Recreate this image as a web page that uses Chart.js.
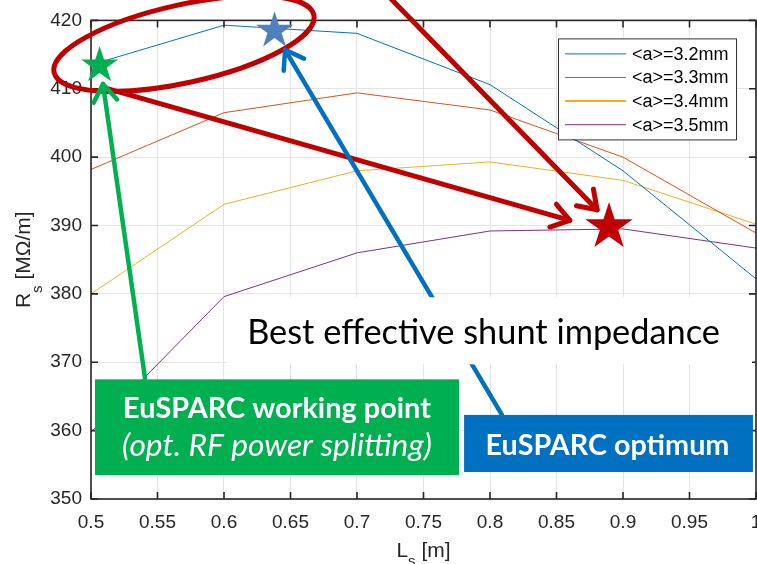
<!DOCTYPE html>
<html>
<head>
<meta charset="utf-8">
<script src="https://cdn.jsdelivr.net/npm/chart.js@4.4.1/dist/chart.umd.min.js"></script>
<style>
  html, body { margin: 0; padding: 0; overflow: hidden; background: #fff; }
  canvas { display: block; }
</style>
</head>
<body>
<canvas id="chart" width="800" height="564"></canvas>
<script>
// structure length L_s [m]
const lengths = [0.5, 0.6, 0.7, 0.8, 0.9, 1.0];
// shunt impedance R_s [MOhm/m], one list per average iris radius
const rs32 = [413.5, 419.3, 418.1, 410.6, 398.0, 382.2];
const rs33 = [398.2, 406.5, 409.4, 406.9, 400.0, 388.9];
const rs34 = [380.0, 393.1, 398.0, 399.3, 396.6, 390.2];
const rs35 = [359.8, 379.6, 386.0, 389.2, 389.5, 386.7];
const seriesLabels = ['<a>=3.2mm', '<a>=3.3mm', '<a>=3.4mm', '<a>=3.5mm'];
const xTicks = [0.5, 0.55, 0.6, 0.65, 0.7, 0.75, 0.8, 0.85, 0.9, 0.95, 1];
const yTicks = [350, 360, 370, 380, 390, 400, 410, 420];

const colors = ['#0072BD', '#D95319', '#EDB120', '#7E2F8E'];
const AX = '#262626';
const TXT = 'Liberation Sans, Arial, sans-serif';
const SLIDE = 'Lato, "Open Sans", sans-serif';

// slide overlay (data units)
const notes = {
  stars: [
    { x: 0.5065, y: 413.4, r: 19.5, color: '#00B050' },
    { x: 0.638, y: 418.5, r: 19.5, color: '#4F81BD' },
    { x: 0.8895, y: 389.8, r: 25, color: '#C00000' }
  ],
  ellipse: { x: 0.5699, y: 416.6, rx: 133, ry: 39, rot: -12.5, color: '#C00000' },
  arrows: [
    { from: [0.509, 410.2], to: [0.860, 390.75], color: '#C00000', w: 5 },
    { from: [0.7173, 424.8], to: [0.8805, 392.3], color: '#C00000', w: 5 },
    { from: [0.809, 362.3], to: [0.6459, 415.7], color: '#0070C0', w: 4.5 },
    { from: [0.5406, 367.7], to: [0.509, 410.7], color: '#00B050', w: 4.5 }
  ],
  white: { x0: 0.6023, y0: 379.5, x1: 0.997, y1: 369.7 },
  green: { x0: 0.503, y0: 367.5, x1: 0.7767, y1: 353.5 },
  blue: { x0: 0.7805, y0: 362.3, x1: 0.9977, y1: 353.95 }
};

function pt(chart, x, y) {
  return [chart.scales.x.getPixelForValue(x), chart.scales.y.getPixelForValue(y)];
}

function fitSize(ctx, text, style, width) {
  ctx.font = style + ' 100px ' + SLIDE;
  return 100 * width / ctx.measureText(text).width;
}

function star(ctx, cx, cy, r, color) {
  ctx.beginPath();
  for (let i = 0; i < 10; i++) {
    const rr = i % 2 ? r * 0.382 : r;
    const a = -Math.PI / 2 + i * Math.PI / 5;
    const px = cx + rr * Math.cos(a), py = cy + rr * Math.sin(a);
    i ? ctx.lineTo(px, py) : ctx.moveTo(px, py);
  }
  ctx.closePath();
  ctx.fillStyle = color;
  ctx.fill();
}

function arrow(ctx, x0, y0, x1, y1, color, w) {
  const ang = Math.atan2(y1 - y0, x1 - x0);
  const L = 21, spread = 0.6;
  ctx.strokeStyle = color;
  ctx.lineWidth = w;
  ctx.lineCap = 'round';
  ctx.lineJoin = 'round';
  ctx.beginPath();
  ctx.moveTo(x0, y0);
  ctx.lineTo(x1, y1);
  ctx.stroke();
  ctx.beginPath();
  ctx.moveTo(x1 - L * Math.cos(ang - spread), y1 - L * Math.sin(ang - spread));
  ctx.lineTo(x1, y1);
  ctx.lineTo(x1 - L * Math.cos(ang + spread), y1 - L * Math.sin(ang + spread));
  ctx.stroke();
}

function box(chart, b, fill) {
  const [x0, y0] = pt(chart, b.x0, b.y0);
  const [x1, y1] = pt(chart, b.x1, b.y1);
  chart.ctx.fillStyle = fill;
  chart.ctx.fillRect(x0, y0, x1 - x0, y1 - y0);
  return { x0, y0, x1, y1, cx: (x0 + x1) / 2 };
}

// main text + subscript + rest, centred on 0 along the baseline
function subLabel(ctx, main, sub, rest, y, drop) {
  ctx.font = '21px ' + TXT;
  const w1 = ctx.measureText(main).width, w3 = ctx.measureText(rest).width;
  ctx.font = '15px ' + TXT;
  const w2 = ctx.measureText(sub).width;
  const x = -(w1 + w2 + w3) / 2;
  ctx.font = '21px ' + TXT;
  ctx.fillText(main, x, y);
  ctx.fillText(rest, x + w1 + w2, y);
  ctx.font = '15px ' + TXT;
  ctx.fillText(sub, x + w1, y + drop);
}

const overlay = {
  id: 'overlay',
  afterDatasetsDraw(chart) {
    const ctx = chart.ctx, a = chart.chartArea;
    const sx = chart.scales.x, sy = chart.scales.y;
    ctx.save();
    ctx.strokeStyle = AX;
    ctx.lineWidth = 1.6;
    ctx.strokeRect(a.left, a.top, a.right - a.left, a.bottom - a.top);
    ctx.beginPath();
    xTicks.forEach(v => {
      const x = sx.getPixelForValue(v);
      ctx.moveTo(x, a.bottom); ctx.lineTo(x, a.bottom - 7);
      ctx.moveTo(x, a.top); ctx.lineTo(x, a.top + 7);
    });
    yTicks.forEach(v => {
      const y = sy.getPixelForValue(v);
      ctx.moveTo(a.left, y); ctx.lineTo(a.left + 7, y);
      ctx.moveTo(a.right, y); ctx.lineTo(a.right - 7, y);
    });
    ctx.stroke();
    ctx.restore();
  },
  afterDraw(chart) {
    const ctx = chart.ctx, a = chart.chartArea;
    ctx.save();

    // legend
    const lx = a.right - 198, ly = a.top + 18;
    ctx.fillStyle = '#fff';
    ctx.fillRect(lx, ly, 178, 101);
    ctx.strokeStyle = '#333';
    ctx.lineWidth = 1;
    ctx.strokeRect(lx + 0.5, ly + 0.5, 178, 101);
    ctx.font = '18px ' + TXT;
    ctx.textBaseline = 'middle';
    ctx.textAlign = 'left';
    chart.data.datasets.forEach((ds, i) => {
      const y = ly + 15.5 + i * 23.6;
      ctx.strokeStyle = ds.borderColor;
      ctx.lineWidth = i === 2 ? 2 : 1;
      ctx.beginPath();
      ctx.moveTo(lx + 7, y); ctx.lineTo(lx + 68, y);
      ctx.stroke();
      ctx.fillStyle = '#000';
      ctx.fillText(ds.label, lx + 74, y + 1);
    });

    // axis titles
    ctx.fillStyle = AX;
    ctx.textBaseline = 'alphabetic';
    ctx.save();
    ctx.translate((a.left + a.right) / 2, 557);
    subLabel(ctx, 'L', 's', ' [m]', 0, 9);
    ctx.restore();

    ctx.save();
    ctx.translate(30, (a.top + a.bottom) / 2);
    ctx.rotate(-Math.PI / 2);
    subLabel(ctx, 'R', 's', ' [M\u03A9/m]', 0, 12);
    ctx.restore();

    // ellipse around the high-R_s region
    const e = notes.ellipse;
    const [ex, ey] = pt(chart, e.x, e.y);
    ctx.strokeStyle = e.color;
    ctx.lineWidth = 5;
    ctx.beginPath();
    ctx.ellipse(ex, ey, e.rx, e.ry, e.rot * Math.PI / 180, 0, 2 * Math.PI);
    ctx.stroke();

    notes.arrows.forEach(ar => {
      const [x0, y0] = pt(chart, ar.from[0], ar.from[1]);
      const [x1, y1] = pt(chart, ar.to[0], ar.to[1]);
      arrow(ctx, x0, y0, x1, y1, ar.color, ar.w);
    });

    notes.stars.forEach(s => {
      const [sx, sy] = pt(chart, s.x, s.y);
      star(ctx, sx, sy, s.r, s.color);
    });

    // text boxes
    ctx.textAlign = 'center';
    ctx.textBaseline = 'alphabetic';
    let b = box(chart, notes.white, '#fff');
    let t = 'Best effective shunt impedance';
    ctx.font = fitSize(ctx, t, 'normal', 473) + 'px ' + SLIDE;
    ctx.fillStyle = '#000';
    ctx.fillText(t, b.cx - 6, b.y0 + 47);

    b = box(chart, notes.green, '#00B050');
    ctx.fillStyle = '#fff';
    t = 'EuSPARC working point';
    ctx.font = 'bold ' + fitSize(ctx, t, 'bold', 308) + 'px ' + SLIDE;
    ctx.fillText(t, b.cx, b.y0 + 39);
    t = '(opt. RF power splitting)';
    ctx.font = 'italic ' + fitSize(ctx, t, 'italic', 310) + 'px ' + SLIDE;
    ctx.fillText(t, b.cx, b.y0 + 77);

    b = box(chart, notes.blue, '#0070C0');
    ctx.fillStyle = '#fff';
    t = 'EuSPARC optimum';
    ctx.font = 'bold ' + fitSize(ctx, t, 'bold', 244) + 'px ' + SLIDE;
    ctx.fillText(t, b.cx - 1, b.y0 + 40);

    ctx.restore();
  }
};

const series = [rs32, rs33, rs34, rs35];
const ctx = document.getElementById('chart');

const chart = new Chart(ctx, {
  type: 'line',
  data: {
    datasets: series.map((vals, i) => ({
      label: seriesLabels[i],
      data: lengths.map((l, j) => ({ x: l, y: vals[j] })),
      borderColor: colors[i],
      borderWidth: 1,
      pointRadius: 0,
      tension: 0,
      fill: false
    }))
  },
  options: {
    responsive: false,
    animation: false,
    layout: { padding: { top: 15, right: 44, left: 0, bottom: 0 } },
    plugins: { legend: { display: false }, tooltip: { enabled: false } },
    scales: {
      x: {
        type: 'linear',
        min: 0.5,
        max: 1,
        afterBuildTicks: s => { s.ticks = xTicks.map(v => ({ value: v })); },
        afterFit: s => { s.height = 65; },
        grid: { color: '#e4e4e4', drawTicks: false },
        border: { display: false },
        ticks: {
          font: { family: TXT, size: 19 },
          color: AX,
          padding: 12,
          maxRotation: 0,
          autoSkip: false,
          callback: v => String(Math.round(v * 100) / 100)
        }
      },
      y: {
        type: 'linear',
        min: 350,
        max: 420,
        afterBuildTicks: s => { s.ticks = yTicks.map(v => ({ value: v })); },
        afterFit: s => { s.width = 91; },
        grid: { color: '#e4e4e4', drawTicks: false },
        border: { display: false },
        ticks: {
          font: { family: TXT, size: 19 },
          color: AX,
          padding: 9,
          autoSkip: false
        }
      }
    }
  },
  plugins: [overlay]
});
</script>
</body>
</html>
